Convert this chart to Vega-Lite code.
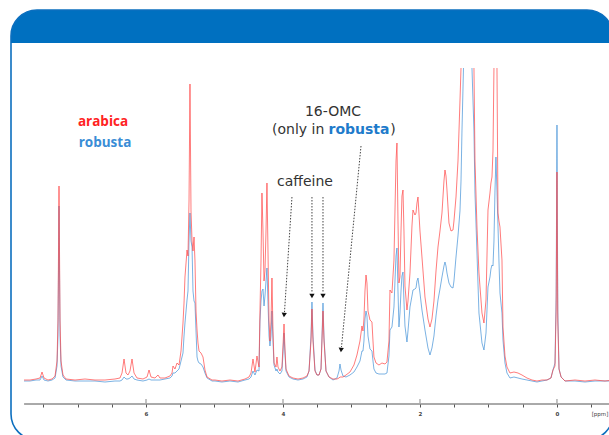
{
"$schema": "https://vega.github.io/schema/vega-lite/v6.json",
"width": 602, "height": 430,
"autosize": {"type": "none"},
"padding": {"left": 11, "top": 10, "right": 0, "bottom": 0},
"background": "white",
"view": {"stroke": "#0C6FBF", "strokeWidth": 1.6, "cornerRadius": 26,
 "fill": {"gradient": "linear", "x1": 0, "y1": 0, "x2": 0, "y2": 1, "stops": [{"offset": 0, "color": "#0070C0"}, {"offset": 0.0767, "color": "#0070C0"}, {"offset": 0.0768, "color": "#ffffff"}, {"offset": 1, "color": "#ffffff"}]}},
"datasets": {
"spec": [
{"ppm":7.781,"arabica":1,"robusta":0},{"ppm":7.693,"arabica":1,"robusta":0},{"ppm":7.606,"arabica":2,"robusta":1},{"ppm":7.547,"arabica":3,"robusta":1},{"ppm":7.518,"arabica":9,"robusta":5},{"ppm":7.489,"arabica":3,"robusta":1},{"ppm":7.431,"arabica":1,"robusta":0},{"ppm":7.372,"arabica":2,"robusta":1},{"ppm":7.328,"arabica":5,"robusta":3},{"ppm":7.299,"arabica":20,"robusta":15},{"ppm":7.285,"arabica":60,"robusta":45},{"ppm":7.270,"arabica":195,"robusta":175},{"ppm":7.255,"arabica":60,"robusta":45},{"ppm":7.241,"arabica":20,"robusta":15},{"ppm":7.212,"arabica":6,"robusta":4},{"ppm":7.168,"arabica":2,"robusta":1},
{"ppm":7.036,"arabica":1,"robusta":0},{"ppm":6.891,"arabica":2,"robusta":0},{"ppm":6.745,"arabica":1,"robusta":0},{"ppm":6.599,"arabica":1,"robusta":-1},{"ppm":6.453,"arabica":2,"robusta":0},{"ppm":6.380,"arabica":3,"robusta":0},{"ppm":6.350,"arabica":8,"robusta":1},{"ppm":6.321,"arabica":22,"robusta":4},{"ppm":6.292,"arabica":8,"robusta":2},{"ppm":6.263,"arabica":6,"robusta":2},{"ppm":6.234,"arabica":10,"robusta":3},{"ppm":6.204,"arabica":22,"robusta":5},{"ppm":6.175,"arabica":8,"robusta":2},{"ppm":6.131,"arabica":3,"robusta":1},{"ppm":6.044,"arabica":2,"robusta":0},{"ppm":5.985,"arabica":4,"robusta":1},{"ppm":5.956,"arabica":11,"robusta":2},{"ppm":5.927,"arabica":4,"robusta":1},{"ppm":5.869,"arabica":3,"robusta":1},{"ppm":5.825,"arabica":6,"robusta":1},{"ppm":5.796,"arabica":3,"robusta":1},{"ppm":5.723,"arabica":3,"robusta":2},{"ppm":5.650,"arabica":5,"robusta":3},
{"ppm":5.620,"arabica":8,"robusta":5},{"ppm":5.606,"arabica":15,"robusta":8},{"ppm":5.577,"arabica":12,"robusta":8},{"ppm":5.547,"arabica":18,"robusta":10},{"ppm":5.518,"arabica":16,"robusta":12},{"ppm":5.489,"arabica":30,"robusta":20},{"ppm":5.460,"arabica":58,"robusta":28},{"ppm":5.445,"arabica":78,"robusta":45},{"ppm":5.431,"arabica":104,"robusta":58},{"ppm":5.401,"arabica":131,"robusta":81},{"ppm":5.387,"arabica":125,"robusta":90},{"ppm":5.372,"arabica":180,"robusta":140},{"ppm":5.358,"arabica":297,"robusta":168},{"ppm":5.343,"arabica":170,"robusta":140},{"ppm":5.328,"arabica":140,"robusta":134},{"ppm":5.314,"arabica":130,"robusta":90},{"ppm":5.299,"arabica":144,"robusta":80},{"ppm":5.285,"arabica":120,"robusta":78},{"ppm":5.270,"arabica":70,"robusta":50},{"ppm":5.255,"arabica":51,"robusta":24},{"ppm":5.241,"arabica":38,"robusta":20},{"ppm":5.226,"arabica":30,"robusta":18},{"ppm":5.197,"arabica":28,"robusta":17},{"ppm":5.168,"arabica":24,"robusta":14},{"ppm":5.139,"arabica":11,"robusta":8},{"ppm":5.109,"arabica":4,"robusta":3},
{"ppm":5.036,"arabica":1,"robusta":0},{"ppm":4.993,"arabica":1,"robusta":0},{"ppm":4.891,"arabica":0,"robusta":-1},{"ppm":4.774,"arabica":1,"robusta":0},{"ppm":4.657,"arabica":0,"robusta":-1},{"ppm":4.555,"arabica":2,"robusta":1},{"ppm":4.496,"arabica":4,"robusta":2},{"ppm":4.467,"arabica":8,"robusta":4},{"ppm":4.438,"arabica":22,"robusta":10},{"ppm":4.409,"arabica":9,"robusta":6},{"ppm":4.380,"arabica":25,"robusta":11},{"ppm":4.350,"arabica":14,"robusta":10},{"ppm":4.336,"arabica":70,"robusta":60},{"ppm":4.321,"arabica":120,"robusta":80},{"ppm":4.307,"arabica":188,"robusta":90},{"ppm":4.292,"arabica":150,"robusta":92},{"ppm":4.277,"arabica":100,"robusta":75},{"ppm":4.263,"arabica":110,"robusta":85},{"ppm":4.248,"arabica":150,"robusta":100},{"ppm":4.234,"arabica":198,"robusta":113},{"ppm":4.219,"arabica":130,"robusta":78},{"ppm":4.204,"arabica":60,"robusta":45},{"ppm":4.190,"arabica":40,"robusta":35},{"ppm":4.175,"arabica":60,"robusta":45},{"ppm":4.161,"arabica":103,"robusta":70},{"ppm":4.146,"arabica":50,"robusta":40},{"ppm":4.131,"arabica":18,"robusta":16},{"ppm":4.102,"arabica":14,"robusta":10},{"ppm":4.088,"arabica":24,"robusta":12},{"ppm":4.073,"arabica":14,"robusta":9},{"ppm":4.044,"arabica":10,"robusta":7},{"ppm":4.015,"arabica":14,"robusta":10},{"ppm":4.000,"arabica":35,"robusta":28},{"ppm":3.985,"arabica":57,"robusta":48},{"ppm":3.971,"arabica":32,"robusta":27},{"ppm":3.956,"arabica":12,"robusta":10},
{"ppm":3.912,"arabica":5,"robusta":4},{"ppm":3.854,"arabica":3,"robusta":2},{"ppm":3.781,"arabica":2,"robusta":1},{"ppm":3.708,"arabica":3,"robusta":2},{"ppm":3.650,"arabica":5,"robusta":4},{"ppm":3.620,"arabica":10,"robusta":10},{"ppm":3.591,"arabica":40,"robusta":45},{"ppm":3.577,"arabica":72,"robusta":79},{"ppm":3.562,"arabica":40,"robusta":45},{"ppm":3.533,"arabica":10,"robusta":11},{"ppm":3.504,"arabica":6,"robusta":6},{"ppm":3.474,"arabica":6,"robusta":6},{"ppm":3.445,"arabica":12,"robusta":12},{"ppm":3.431,"arabica":40,"robusta":43},{"ppm":3.416,"arabica":70,"robusta":78},{"ppm":3.401,"arabica":40,"robusta":43},{"ppm":3.372,"arabica":10,"robusta":10},{"ppm":3.328,"arabica":4,"robusta":4},{"ppm":3.270,"arabica":2,"robusta":1},{"ppm":3.212,"arabica":2,"robusta":3},{"ppm":3.182,"arabica":3,"robusta":10},{"ppm":3.168,"arabica":4,"robusta":17},{"ppm":3.153,"arabica":4,"robusta":11},{"ppm":3.124,"arabica":4,"robusta":5},{"ppm":3.080,"arabica":6,"robusta":4},{"ppm":3.022,"arabica":9,"robusta":6},{"ppm":2.964,"arabica":16,"robusta":9},{"ppm":2.920,"arabica":26,"robusta":14},{"ppm":2.876,"arabica":40,"robusta":20},{"ppm":2.847,"arabica":55,"robusta":30},{"ppm":2.832,"arabica":50,"robusta":30},{"ppm":2.818,"arabica":62,"robusta":40},{"ppm":2.803,"arabica":90,"robusta":62},{"ppm":2.788,"arabica":106,"robusta":70},{"ppm":2.774,"arabica":98,"robusta":65},{"ppm":2.759,"arabica":70,"robusta":45},{"ppm":2.730,"arabica":61,"robusta":32},{"ppm":2.701,"arabica":59,"robusta":30},{"ppm":2.686,"arabica":40,"robusta":20},{"ppm":2.672,"arabica":24,"robusta":12},{"ppm":2.642,"arabica":18,"robusta":8},{"ppm":2.599,"arabica":16,"robusta":7},{"ppm":2.555,"arabica":18,"robusta":7},{"ppm":2.511,"arabica":17,"robusta":7},{"ppm":2.482,"arabica":19,"robusta":8},
{"ppm":2.453,"arabica":40,"robusta":25},{"ppm":2.438,"arabica":91,"robusta":51},{"ppm":2.409,"arabica":88,"robusta":54},{"ppm":2.380,"arabica":121,"robusta":74},{"ppm":2.365,"arabica":170,"robusta":100},{"ppm":2.350,"arabica":220,"robusta":125},{"ppm":2.336,"arabica":238,"robusta":133},{"ppm":2.321,"arabica":160,"robusta":90},{"ppm":2.307,"arabica":98,"robusta":54},{"ppm":2.292,"arabica":104,"robusta":68},{"ppm":2.277,"arabica":150,"robusta":90},{"ppm":2.263,"arabica":185,"robusta":105},{"ppm":2.248,"arabica":191,"robusta":109},{"ppm":2.234,"arabica":150,"robusta":80},{"ppm":2.219,"arabica":95,"robusta":55},{"ppm":2.190,"arabica":71,"robusta":39},{"ppm":2.175,"arabica":80,"robusta":50},{"ppm":2.146,"arabica":108,"robusta":74},{"ppm":2.117,"arabica":155,"robusta":85},{"ppm":2.102,"arabica":171,"robusta":91},{"ppm":2.073,"arabica":166,"robusta":92},{"ppm":2.058,"arabica":168,"robusta":93},{"ppm":2.044,"arabica":178,"robusta":100},{"ppm":2.029,"arabica":184,"robusta":103},{"ppm":2.000,"arabica":150,"robusta":88},{"ppm":1.971,"arabica":124,"robusta":71},{"ppm":1.927,"arabica":84,"robusta":51},{"ppm":1.883,"arabica":62,"robusta":33},{"ppm":1.854,"arabica":54,"robusta":26},{"ppm":1.825,"arabica":62,"robusta":33},{"ppm":1.796,"arabica":80,"robusta":45},{"ppm":1.766,"arabica":110,"robusta":65},{"ppm":1.737,"arabica":134,"robusta":81},{"ppm":1.708,"arabica":150,"robusta":92},{"ppm":1.679,"arabica":168,"robusta":104},{"ppm":1.650,"arabica":200,"robusta":115},{"ppm":1.635,"arabica":211,"robusta":119},{"ppm":1.620,"arabica":205,"robusta":115},{"ppm":1.606,"arabica":191,"robusta":108},{"ppm":1.577,"arabica":158,"robusta":98},{"ppm":1.547,"arabica":150,"robusta":94},{"ppm":1.518,"arabica":151,"robusta":93},{"ppm":1.504,"arabica":160,"robusta":100},{"ppm":1.474,"arabica":184,"robusta":124},{"ppm":1.445,"arabica":220,"robusta":145},{"ppm":1.416,"arabica":280,"robusta":170},{"ppm":1.401,"arabica":313,"robusta":200},{"ppm":1.387,"arabica":null,"robusta":250},{"ppm":1.365,"arabica":null,"robusta":313},{"ppm":1.314,"arabica":null,"robusta":null},{"ppm":1.241,"arabica":null,"robusta":313},{"ppm":1.212,"arabica":313,"robusta":250},{"ppm":1.197,"arabica":221,"robusta":188},{"ppm":1.168,"arabica":154,"robusta":128},{"ppm":1.139,"arabica":108,"robusta":68},{"ppm":1.095,"arabica":68,"robusta":38},{"ppm":1.066,"arabica":58,"robusta":31},{"ppm":1.036,"arabica":81,"robusta":48},{"ppm":1.007,"arabica":171,"robusta":94},{"ppm":0.978,"arabica":188,"robusta":104},{"ppm":0.964,"arabica":198,"robusta":112},{"ppm":0.949,"arabica":204,"robusta":116},{"ppm":0.934,"arabica":230,"robusta":115},{"ppm":0.920,"arabica":313,"robusta":140},{"ppm":0.905,"arabica":null,"robusta":190},{"ppm":0.891,"arabica":null,"robusta":224},{"ppm":0.876,"arabica":313,"robusta":190},{"ppm":0.861,"arabica":168,"robusta":155},{"ppm":0.847,"arabica":160,"robusta":120},{"ppm":0.832,"arabica":154,"robusta":88},{"ppm":0.803,"arabica":121,"robusta":68},{"ppm":0.788,"arabica":54,"robusta":41},{"ppm":0.759,"arabica":25,"robusta":18},{"ppm":0.730,"arabica":14,"robusta":8},{"ppm":0.686,"arabica":8,"robusta":3},{"ppm":0.628,"arabica":9,"robusta":4},{"ppm":0.569,"arabica":8,"robusta":3},{"ppm":0.511,"arabica":6,"robusta":2},{"ppm":0.438,"arabica":3,"robusta":1},{"ppm":0.365,"arabica":1,"robusta":0},{"ppm":0.292,"arabica":0,"robusta":-1},{"ppm":0.219,"arabica":1,"robusta":0},{"ppm":0.146,"arabica":1,"robusta":1},{"ppm":0.088,"arabica":3,"robusta":3},{"ppm":0.058,"arabica":11,"robusta":11},{"ppm":0.029,"arabica":15,"robusta":18},{"ppm":0.012,"arabica":70,"robusta":85},{"ppm":0.000,"arabica":209,"robusta":256},{"ppm":-0.012,"arabica":60,"robusta":70},{"ppm":-0.030,"arabica":12,"robusta":12},{"ppm":-0.060,"arabica":4,"robusta":4},{"ppm":-0.117,"arabica":0,"robusta":0},{"ppm":-0.263,"arabica":1,"robusta":0},{"ppm":-0.409,"arabica":0,"robusta":-1},{"ppm":-0.555,"arabica":1,"robusta":0},{"ppm":-0.701,"arabica":0,"robusta":0},{"ppm":-0.818,"arabica":1,"robusta":0}
]
},
"encoding": {
 "x": {"field": "ppm", "type": "quantitative",
  "scale": {"domain": [-0.818, 7.971], "reverse": true, "nice": false, "zero": false},
  "axis": {"title": null, "grid": false, "domain": false, "offset": -36,
   "values": [-0.5,0,0.5,1,1.5,2,2.5,3,3.5,4,4.5,5,5.5,6,6.5,7,7.5],
   "labelExpr": "datum.value == -0.5 ? '[ppm]' : (datum.value % 2 == 0 ? format(datum.value, 'd') : '')",
   "labelAlign": {"condition": {"test": "datum.value == -0.5", "value": "left"}, "value": "center"},
   "labelFontWeight": {"condition": {"test": "datum.value == -0.5", "value": "normal"}, "value": "bold"},
   "labelFlush": false, "labelOverlap": false,
   "labelFont": "DejaVu Sans", "labelFontSize": 5.5, "labelColor": "#444",
   "labelPadding": 4, "tickSize": 3, "tickColor": "#555", "tickWidth": 1}}
},
"layer": [
 {"data": {"values": [{"ppm": 7.78, "ppm2": -0.818, "int": -23}]},
  "mark": {"type": "rule", "color": "#555", "strokeWidth": 1},
  "encoding": {"x2": {"field": "ppm2"}, "y": {"field": "int", "type": "quantitative", "scale": {"domain": [-59, 371], "nice": false, "zero": false}, "axis": null}}},
 {"data": {"values": [{"ppm": 6, "int": -20}, {"ppm": 4, "int": -20}, {"ppm": 2, "int": -20}, {"ppm": 0, "int": -20}]},
  "mark": {"type": "tick", "orient": "vertical", "color": "#555", "thickness": 1, "size": 4},
  "encoding": {"y": {"field": "int", "type": "quantitative", "scale": {"domain": [-59, 371], "nice": false, "zero": false}, "axis": null}}},
 {"data": {"name": "spec"},
  "mark": {"type": "line", "color": "#4F98DA", "strokeWidth": 1, "opacity": 0.75, "invalid": "break-paths-show-domains"},
  "encoding": {"y": {"field": "robusta", "type": "quantitative", "scale": {"domain": [-59, 371], "nice": false, "zero": false}, "axis": null}}},
 {"data": {"name": "spec"},
  "mark": {"type": "line", "color": "#FF4545", "strokeWidth": 1, "opacity": 0.7, "invalid": "break-paths-show-domains"},
  "encoding": {"y": {"field": "arabica", "type": "quantitative", "scale": {"domain": [-59, 371], "nice": false, "zero": false}, "axis": null}}},
 {"data": {"values": [
   {"ppm": 3.869, "int": 184, "ppm2": 3.978, "int2": 69},
   {"ppm": 3.577, "int": 184, "ppm2": 3.577, "int2": 88},
   {"ppm": 3.416, "int": 184, "ppm2": 3.416, "int2": 88},
   {"ppm": 2.861, "int": 235, "ppm2": 3.146, "int2": 34}]},
  "mark": {"type": "rule", "color": "#444", "strokeWidth": 1, "strokeDash": [1.5, 1.5]},
  "encoding": {"x2": {"field": "ppm2"}, "y": {"field": "int", "type": "quantitative", "scale": {"domain": [-59, 371], "nice": false, "zero": false}, "axis": null}, "y2": {"field": "int2"}}},
 {"data": {"values": [{"ppm": 3.577, "int": 85}, {"ppm": 3.416, "int": 85}]},
  "mark": {"type": "point", "shape": "triangle-down", "filled": true, "color": "#111", "opacity": 1, "size": 28},
  "encoding": {"y": {"field": "int", "type": "quantitative", "scale": {"domain": [-59, 371], "nice": false, "zero": false}, "axis": null}}},
 {"data": {"values": [{"ppm": 3.984, "int": 66}, {"ppm": 3.152, "int": 31}]},
  "mark": {"type": "point", "shape": "triangle-down", "filled": true, "color": "#111", "opacity": 1, "size": 28, "angle": 4.5},
  "encoding": {"y": {"field": "int", "type": "quantitative", "scale": {"domain": [-59, 371], "nice": false, "zero": false}, "axis": null}}},
 {"data": {"values": [{"ppm": 3.27, "int": 269, "t": "16-OMC"}, {"ppm": 3.679, "int": 199, "t": "caffeine"}]},
  "mark": {"type": "text", "font": "DejaVu Sans", "fontSize": 14, "color": "#333", "align": "center", "baseline": "middle"},
  "encoding": {"y": {"field": "int", "type": "quantitative", "scale": {"domain": [-59, 371], "nice": false, "zero": false}, "axis": null}, "text": {"field": "t"}}},
 {"data": {"values": [{"ppm": 3.397, "int": 251, "t": "(only in"}]},
  "mark": {"type": "text", "font": "DejaVu Sans", "fontSize": 14, "color": "#333", "align": "right", "baseline": "middle"},
  "encoding": {"y": {"field": "int", "type": "quantitative", "scale": {"domain": [-59, 371], "nice": false, "zero": false}, "axis": null}, "text": {"field": "t"}}},
 {"data": {"values": [{"ppm": 2.435, "int": 251, "t": ")"}]},
  "mark": {"type": "text", "font": "DejaVu Sans", "fontSize": 14, "color": "#333", "align": "left", "baseline": "middle"},
  "encoding": {"y": {"field": "int", "type": "quantitative", "scale": {"domain": [-59, 371], "nice": false, "zero": false}, "axis": null}, "text": {"field": "t"}}},
 {"data": {"values": [{"ppm": 3.336, "int": 251, "t": "robusta"}]},
  "mark": {"type": "text", "font": "DejaVu Sans", "fontSize": 14, "fontWeight": "bold", "color": "#1E7BCB", "align": "left", "baseline": "middle"},
  "encoding": {"y": {"field": "int", "type": "quantitative", "scale": {"domain": [-59, 371], "nice": false, "zero": false}, "axis": null}, "text": {"field": "t"}}},
 {"data": {"values": [{"ppm": 6.628, "int": 259, "t": "arabica"}]},
  "mark": {"type": "text", "font": "Open Sans", "fontSize": 13.5, "fontWeight": "bold", "color": "#FF2222", "align": "center", "baseline": "middle"},
  "encoding": {"y": {"field": "int", "type": "quantitative", "scale": {"domain": [-59, 371], "nice": false, "zero": false}, "axis": null}, "text": {"field": "t"}}},
 {"data": {"values": [{"ppm": 6.599, "int": 238, "t": "robusta"}]},
  "mark": {"type": "text", "font": "Open Sans", "fontSize": 13.5, "fontWeight": "bold", "color": "#3A8DD6", "align": "center", "baseline": "middle"},
  "encoding": {"y": {"field": "int", "type": "quantitative", "scale": {"domain": [-59, 371], "nice": false, "zero": false}, "axis": null}, "text": {"field": "t"}}}
]
}
